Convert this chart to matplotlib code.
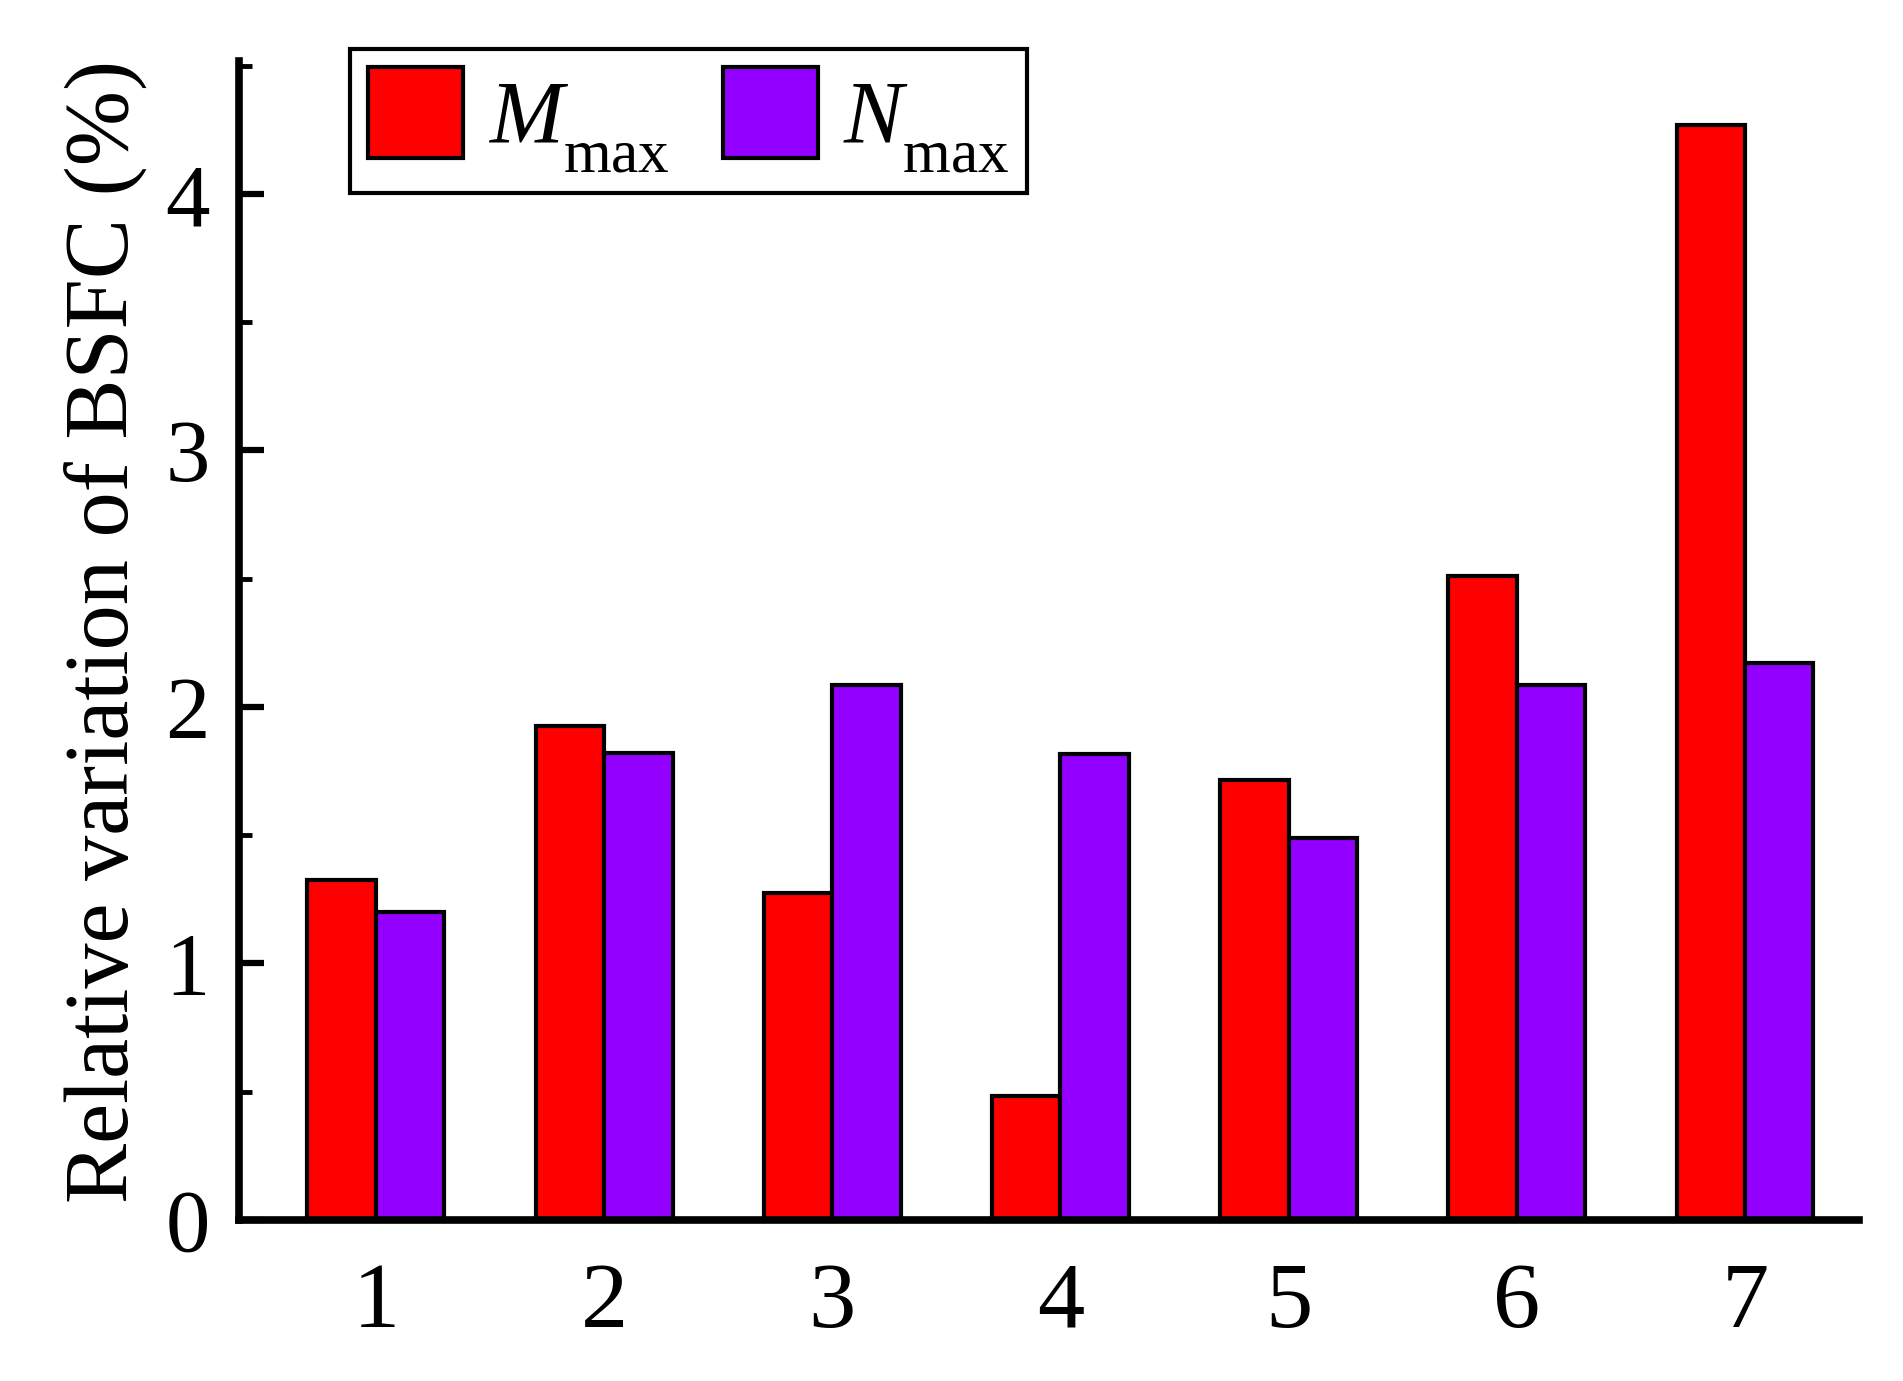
import matplotlib
matplotlib.use("Agg")
import matplotlib.pyplot as plt
import numpy as np
from matplotlib.ticker import MultipleLocator

# Deeper subscripts in mathtext, as in the reference legend
try:
    import matplotlib._mathtext as _mt
    _mt.FontConstantsBase.sub1 = 0.75
    _mt.SHRINK_FACTOR = 0.69
except Exception:
    pass

categories = ["1", "2", "3", "4", "5", "6", "7"]
m_max = [1.325, 1.925, 1.275, 0.485, 1.715, 2.51, 4.27]
n_max = [1.20, 1.82, 2.085, 1.815, 1.49, 2.085, 2.17]
series_labels = [r"$\mathit{M}_{\mathrm{max}}$", r"$\mathit{N}_{\mathrm{max}}$"]
y_ticks = [0, 1, 2, 3, 4]
ylabel = "Relative variation of BSFC (%)"

plt.rcParams["font.family"] = ["Liberation Serif", "DejaVu Serif"]
plt.rcParams["mathtext.fontset"] = "custom"
plt.rcParams["mathtext.rm"] = "Liberation Serif"
plt.rcParams["mathtext.it"] = "Liberation Serif:italic"

fig = plt.figure(figsize=(19.03, 13.81), dpi=100)
ax = fig.add_axes([0.1256, 0.1166, 0.9769 - 0.1256, 0.9561 - 0.1166])

x = np.arange(1, len(categories) + 1)
w = 0.3
ax.bar(x - w / 2, m_max, width=w, color="#FF0000", edgecolor="black", linewidth=3.0, label=series_labels[0], zorder=2)
ax.bar(x + w / 2, n_max, width=w, color="#9300FF", edgecolor="black", linewidth=3.0, label=series_labels[1], zorder=2)

ax.set_xlim(0.4, 7.5)
ax.set_ylim(0, 4.52)
ax.set_xticks(x)
ax.set_xticklabels(categories)
ax.set_yticks(y_ticks)
ax.yaxis.set_minor_locator(MultipleLocator(0.5))

for s in ["top", "right"]:
    ax.spines[s].set_visible(False)
for s in ["left", "bottom"]:
    ax.spines[s].set_linewidth(5.5)
    ax.spines[s].set_zorder(3)

ax.tick_params(axis="y", which="major", direction="in", length=18, width=4.5, labelsize=64, pad=21)
ax.tick_params(axis="y", which="minor", direction="in", length=9.5, width=3.5)
ax.tick_params(axis="x", which="both", length=0, labelsize=68, pad=30)

ax.set_ylabel(ylabel, fontsize=65)
ax.yaxis.set_label_coords(-0.0568, 0.5076)

leg = ax.legend(loc="upper left", bbox_to_anchor=(350 / 1903, 1 - 49 / 1381),
                bbox_transform=fig.transFigure, ncol=2, fontsize=64,
                frameon=True, fancybox=False, edgecolor="black", framealpha=1.0,
                handlelength=1.07, handleheight=1.2, handletextpad=0.28,
                columnspacing=0.6, borderpad=0.2, borderaxespad=0.0)
leg.get_frame().set_linewidth(3)

fig.savefig("out.png", dpi=100)
